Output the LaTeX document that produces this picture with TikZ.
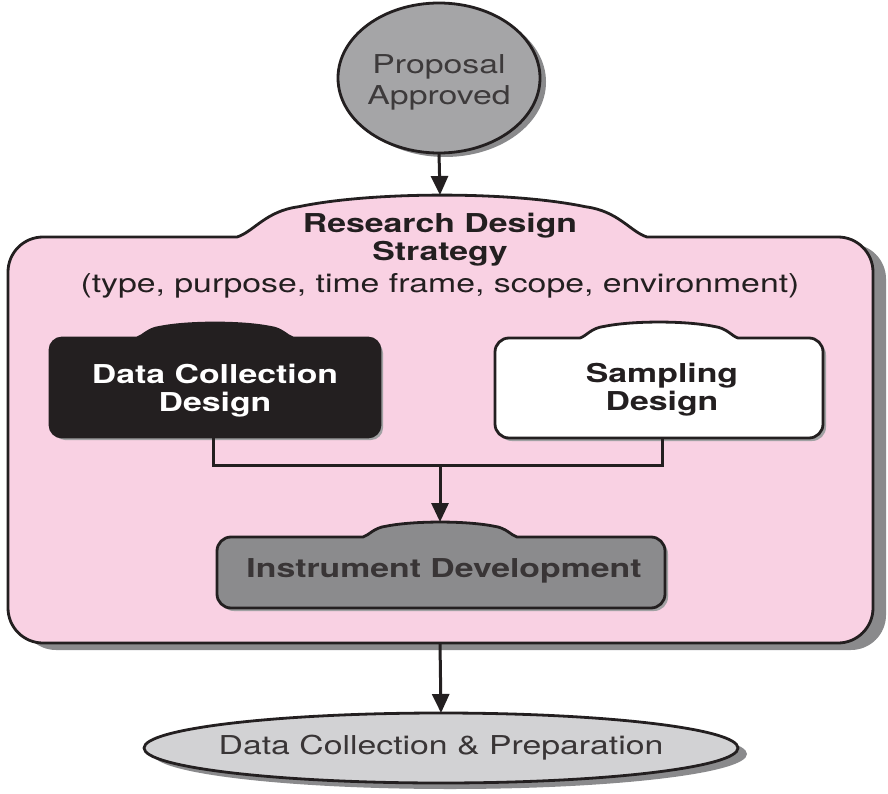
\documentclass[tikz,border=0pt]{standalone}
\usepackage{fontspec}
\setmainfont{TeX Gyre Heros}[FakeStretch=1.3]
\usetikzlibrary{arrows.meta,shapes.geometric}
\definecolor{pinkf}{HTML}{F9D1E3}
\definecolor{ink}{HTML}{231F20}
\definecolor{circf}{HTML}{A5A5A7}
\definecolor{instf}{HTML}{8B8B8D}
\definecolor{ellf}{HTML}{D2D2D4}
\definecolor{shad}{HTML}{8A8A8C}
% #1 style, #2 L, #3 T, #4 R, #5 B, #6 corner radius, #7 tab left, #8 tab right, #9 tab top
\newcommand\tabbox[9]{%
  \path[#1] ({#7},{#3}) -- ({#2+#6},{#3})
  .. controls ({#2+0.448*#6},{#3}) and ({#2},{#3+0.448*#6}) .. ({#2},{#3+#6})
  -- ({#2},{#5-#6})
  .. controls ({#2},{#5-0.448*#6}) and ({#2+0.448*#6},{#5}) .. ({#2+#6},{#5})
  -- ({#4-#6},{#5})
  .. controls ({#4-0.448*#6},{#5}) and ({#4},{#5-0.448*#6}) .. ({#4},{#5-#6})
  -- ({#4},{#3+#6})
  .. controls ({#4},{#3+0.448*#6}) and ({#4-0.448*#6},{#3}) .. ({#4-#6},{#3})
  -- ({#8},{#3})
  .. controls ({#8-0.04*(#8-#7)},{#3-0.12*(#3-#9)}) and ({#8-0.07*(#8-#7)},{#9+0.38*(#3-#9)}) .. ({#8-0.15*(#8-#7)},{#9+0.28*(#3-#9)})
  .. controls ({#8-0.33*(#8-#7)},{#9-0.09*(#3-#9)}) and ({#7+0.33*(#8-#7)},{#9-0.09*(#3-#9)}) .. ({#7+0.15*(#8-#7)},{#9+0.28*(#3-#9)})
  .. controls ({#7+0.07*(#8-#7)},{#9+0.38*(#3-#9)}) and ({#7+0.04*(#8-#7)},{#3-0.12*(#3-#9)}) .. ({#7},{#3}) -- cycle;}
\tikzset{
  txt/.style={font=\fontsize{26}{29}\selectfont, align=center, inner sep=0pt, text=ink},
  boldtxt/.style={txt, font=\fontsize{26}{28}\selectfont\bfseries},
  outline/.style={draw=ink, line width=2.8pt, line join=round},
  conn/.style={draw=ink, line width=3pt},
  arrowline/.style={conn, -{Triangle[length=19pt,width=17pt]}},
  oval/.style={ellipse, outline, inner sep=0pt, outer sep=0pt},
}
\begin{document}
\begin{tikzpicture}[x=1pt,y=-1pt]
\useasboundingbox (0,0) rectangle (888,794);
% Proposal Approved
\fill[shad] (445,82) ellipse [x radius=101pt, y radius=75pt];
\node[oval, fill=circf, minimum width=202pt, minimum height=150pt] (pa) at (439,78) {};
\node[txt, font=\fontsize{26}{31}\selectfont, text=ink!88] (pat) at (439,82) {Proposal\\Approved};
% Research design strategy box
\fill[shad, rounded corners=35pt] (21,244) rectangle (886,650);
\tabbox{outline, fill=pinkf}{8}{237}{873}{643}{35}{237}{647}{195}
\coordinate (rdtop) at (440,195);
\coordinate (rdbot) at (440,643);
\node[boldtxt] (rds) at (440,240) {Research Design\\Strategy};
\node[txt] (rdp) at (440,286) {(type, purpose, time frame, scope, environment)};
% Data collection design
\fill[shad!80, rounded corners=12pt] (53,341) rectangle (383,440);
\tabbox{outline, fill=ink}{50}{338}{380}{437}{12}{137}{293}{323}
\node[boldtxt, text=white] (dcd) at (215,391) {Data Collection\\Design};
\coordinate (dcb) at (213,437);
% Sampling design
\fill[shad!80, rounded corners=14pt] (498,341) rectangle (826,441);
\tabbox{outline, fill=white}{495}{338}{823}{438}{14}{580}{738}{322}
\node[boldtxt] (sd) at (662,390) {Sampling\\Design};
\coordinate (sdb) at (662,438);
% junction
\coordinate (jl) at (213,465);
\coordinate (jr) at (662,465);
\coordinate (jm) at (440,465);
% Instrument development
\fill[shad!80, rounded corners=14pt] (220,540) rectangle (668,611);
\tabbox{outline, fill=instf}{217}{537}{665}{608}{14}{363}{517}{522}
\node[boldtxt, text=ink!90] (idv) at (444,571) {Instrument Development};
\coordinate (idtop) at (440,522);
% Data collection & preparation
\fill[shad] (450,754) ellipse [x radius=297pt, y radius=35pt];
\node[oval, fill=ellf, minimum width=594pt, minimum height=70pt] (dcp) at (441,748) {};
\node[txt, text=ink!90] (dcpt) at (441,748) {Data Collection \& Preparation};
% connectors
\draw[arrowline] (pa.south) -- (rdtop);
\draw[conn, line join=miter] (dcb) -- (jl) -- (jr) -- (sdb);
\draw[arrowline] (jm) -- (idtop);
\draw[arrowline] (rdbot) -- (dcp.north);
\end{tikzpicture}
\end{document}
